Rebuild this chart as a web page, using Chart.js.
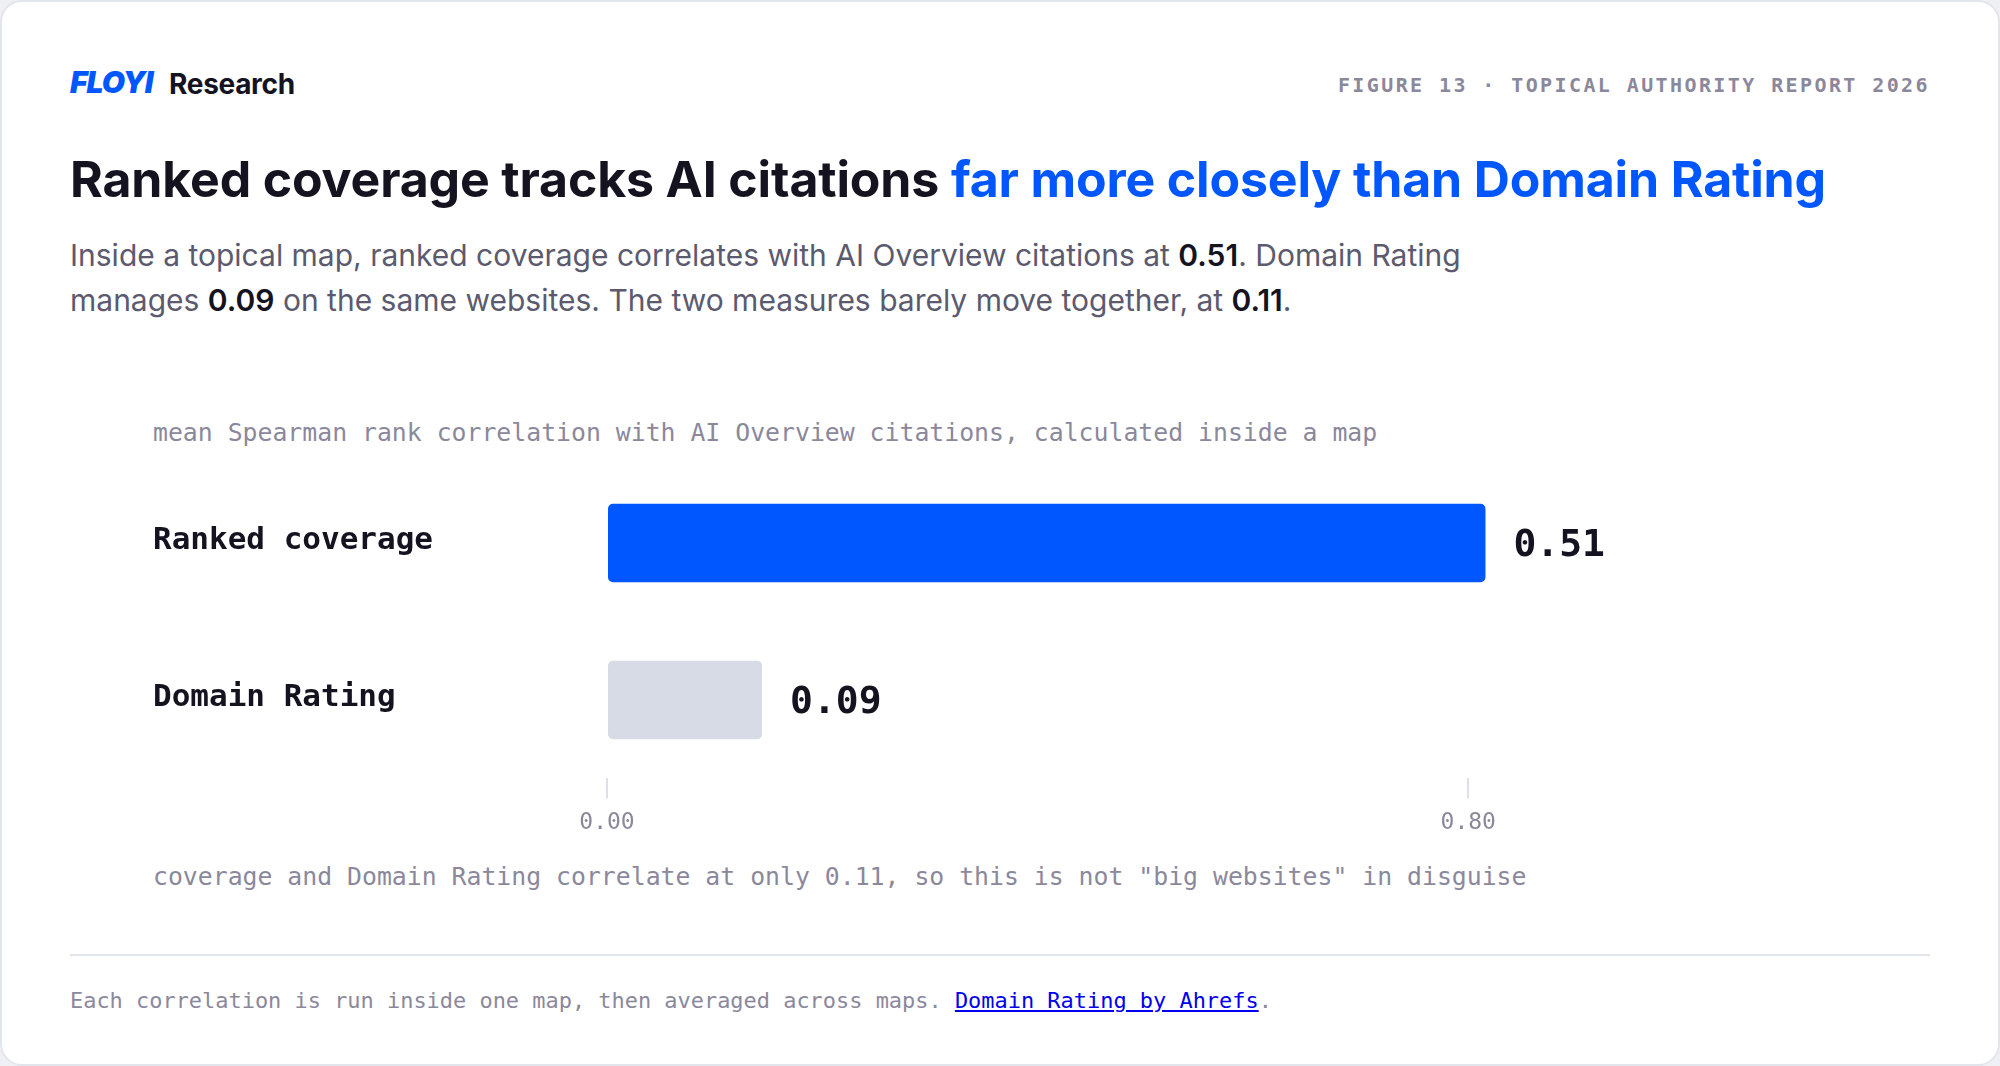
<!DOCTYPE html>
<html>
<head>
<meta charset="utf-8">
<script src="https://cdn.jsdelivr.net/npm/chart.js@4.4.1/dist/chart.umd.min.js"></script>
<style>
  html, body { margin: 0; padding: 0; }
  body { width: 2000px; height: 1066px; background: #eef0f4; position: relative; overflow: hidden; font-family: Inter, "Noto Sans", sans-serif; }
  #card { position: absolute; left: 0; top: 0; width: 1996px; height: 1062px; background: #ffffff; border: 2px solid #e3e5ec; border-radius: 22px; }
  .abs { position: absolute; white-space: nowrap; }
  .mono { font-family: "DejaVu Sans Mono", monospace; }
  #logo { left: 70px; top: 65px; font: italic 900 30px/34px Inter, sans-serif; color: #0057ff; letter-spacing: -1px; }
  #brand { left: 169px; top: 67px; font: 700 28px/34px Inter, sans-serif; color: #15131f; letter-spacing: -0.3px; }
  #fig { right: 70px; top: 73px; font-weight: 700; font-size: 20px; line-height: 24px; color: #8b889c; letter-spacing: 2.4px; }
  #title { left: 70px; top: 151px; font: 700 50px/56px Inter, sans-serif; color: #15131f; letter-spacing: -0.15px; }
  #title .hl { color: #0057ff; }
  #lede { left: 70px; top: 233px; font: 400 30px/45px Inter, sans-serif; color: #5c5a6e; }
  #lede b { color: #15131f; font-weight: 600; }
  #cap1 { left: 153px; top: 418px; font-size: 24.8px; line-height: 30px; color: #8b889c; }
  #cap2 { left: 153px; top: 862px; font-size: 24.8px; line-height: 30px; color: #8b889c; }
  #rule { position: absolute; left: 70px; top: 954px; width: 1860px; height: 2px; background: #e3e5ec; }
  #foot { left: 70px; top: 988px; font-size: 21.95px; line-height: 26px; color: #8b889c; }
  #foot a { color: #0000ee; text-decoration: underline; }
  #chartWrap { position: absolute; left: 153px; top: 446px; width: 1832px; height: 402px; }
</style>
</head>
<body>
<div id="card"></div>
<div class="abs" id="logo">FLOYI</div>
<div class="abs" id="brand">Research</div>
<div class="abs mono" id="fig">FIGURE 13 · TOPICAL AUTHORITY REPORT 2026</div>
<div class="abs" id="title">Ranked coverage tracks AI citations <span class="hl">far more closely than Domain Rating</span></div>
<div class="abs" id="lede">Inside a topical map, ranked coverage correlates with AI Overview citations at <b>0.51</b>. Domain Rating<br>manages <b>0.09</b> on the same websites. The two measures barely move together, at <b>0.11</b>.</div>
<div class="abs mono" id="cap1">mean Spearman rank correlation with AI Overview citations, calculated inside a map</div>
<div id="chartWrap"><canvas id="c" width="1832" height="402"></canvas></div>
<div class="abs mono" id="cap2">coverage and Domain Rating correlate at only 0.11, so this is not "big websites" in disguise</div>
<div id="rule"></div>
<div class="abs mono" id="foot">Each correlation is run inside one map, then averaged across maps. <a href="#">Domain Rating by Ahrefs</a>.</div>

<script>
// ---- data ----
const categories = ["Ranked coverage", "Domain Rating"];
const values = [0.51, 0.09];
const valueLabels = ["0.51", "0.09"];
const barColors = ["#0057ff", "#d6dbe5"];
const xMin = 0;
const xMax = 0.8;
const tickValues = [0, 0.5];
const tickLabels = ["0.00", "0.80"];

const MONO = "'DejaVu Sans Mono', monospace";

const valueLabelPlugin = {
  id: 'valueLabels',
  afterDatasetsDraw(chart) {
    const ctx = chart.ctx;
    const meta = chart.getDatasetMeta(0);
    ctx.save();
    ctx.font = "bold 38px " + MONO;
    ctx.fillStyle = "#15131f";
    ctx.textAlign = "left";
    ctx.textBaseline = "middle";
    meta.data.forEach((bar, i) => {
      ctx.fillText(valueLabels[i], bar.x + 28, bar.y + 3);
    });
    ctx.restore();
  }
};

new Chart(document.getElementById('c'), {
  type: 'bar',
  data: {
    labels: categories,
    datasets: [{
      data: values,
      backgroundColor: barColors,
      borderWidth: 0,
      borderRadius: 5,
      borderSkipped: false,
      categoryPercentage: 0.5,
      barPercentage: 1.0
    }]
  },
  options: {
    indexAxis: 'y',
    responsive: false,
    animation: false,
    layout: { padding: 0, autoPadding: false },
    plugins: { legend: { display: false }, tooltip: { enabled: false } },
    scales: {
      x: {
        type: 'linear',
        min: xMin,
        max: xMax,
        afterBuildTicks(scale) { scale.ticks = tickValues.map(v => ({ value: v })); },
        border: { display: false },
        grid: { display: true, drawOnChartArea: false, drawTicks: true, tickLength: 20, color: '#dedfe8', lineWidth: 2 },
        ticks: {
          padding: 11,
          color: '#8b889c',
          font: { family: MONO, size: 23 },
          maxRotation: 0,
          callback: (v, i) => tickLabels[i]
        }
      },
      y: {
        type: 'category',
        border: { display: false },
        grid: { display: false },
        afterFit(scale) { scale.width = 454; },
        ticks: {
          crossAlign: 'far',
          padding: 0,
          labelOffset: -2,
          color: '#15131f',
          font: { family: MONO, size: 31, weight: 'bold' }
        }
      }
    }
  },
  plugins: [valueLabelPlugin]
});
</script>
</body>
</html>
